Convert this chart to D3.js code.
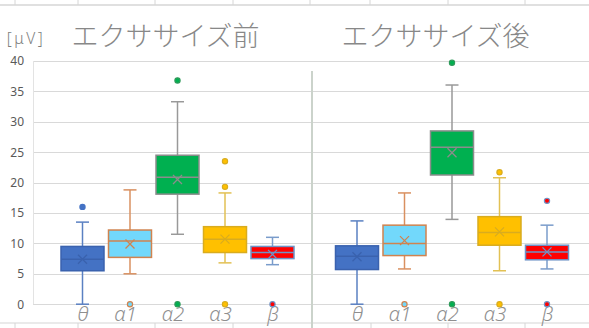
<!DOCTYPE html>
<html>
<head>
<meta charset="utf-8">
<script src="https://cdn.jsdelivr.net/npm/d3@7"></script>
<style>
  html, body { margin: 0; padding: 0; background: #ffffff; }
  svg { display: block; }
</style>
</head>
<body>
<svg id="chart" width="589" height="328"></svg>
<script>
// ---------------- data ----------------
const categories = ["θ", "α1", "α2", "α3", "β"];
const panelTitles = ["エクササイズ前", "エクササイズ後"];
const unitLabel = "[μV]";
const yTicks = [0, 5, 10, 15, 20, 25, 30, 35, 40];

// before exercise
const beforeLow    = [0,    5.0, 11.5, 6.8,  6.5];
const beforeQ1     = [5.5,  7.7, 18.1, 8.5,  7.5];
const beforeMedian = [7.4, 10.4, 20.9, 10.7, 8.5];
const beforeQ3     = [9.5, 12.2, 24.5, 12.75, 9.5];
const beforeHigh   = [13.5, 18.8, 33.3, 18.3, 11.0];
const beforeMean   = [7.4,  9.9, 20.5, 10.7, 8.2];
const beforeOutliers = [[16.0], [0], [36.8, 0], [23.5, 19.3, 0], [0]];

// after exercise
const afterLow    = [0,    5.8, 13.95, 5.5, 5.8];
const afterQ1     = [5.7,  8.0, 21.25, 9.7, 7.3];
const afterMedian = [7.9, 10.0, 25.8, 11.8, 8.6];
const afterQ3     = [9.6, 13.0, 28.5, 14.4, 9.7];
const afterHigh   = [13.7, 18.3, 36.05, 20.8, 13.0];
const afterMean   = [7.8, 10.45, 24.9, 11.9, 8.6];
const afterOutliers = [[], [0], [39.7, 0], [21.7, 0], [17.0, 0]];

// styles per category
const fills   = ["#4472C4", "#72D8FB", "#00B050", "#FFC000", "#FF0000"];
const strokes = ["#3A62AE", "#D0834F", "#8C8C8C", "#D9AC1E", "#6E93C6"];
const whiskerStrokes = ["#5A80C2", "#D99060", "#999999", "#E2C154", "#7A9CCB"];
const outlierFills = ["#4472C4", "#72D8FB", "#00B050", "#FFC000", "#FF0000"];
const outlierStrokes = ["#4472C4", "#D0834F", "#2E9A5A", "#D9AC1E", "#6E93C6"];

// ---------------- layout ----------------
const svg = d3.select("#chart");
const W = 589, H = 328;

const y = d3.scaleLinear().domain([0, 40]).range([304.2, 61]);

const panels = [
  { title: panelTitles[0], titleX: 165.5, range: [82.5, 272.5],
    low: beforeLow, q1: beforeQ1, med: beforeMedian, q3: beforeQ3, high: beforeHigh, mean: beforeMean, out: beforeOutliers },
  { title: panelTitles[1], titleX: 435.5, range: [357, 547],
    low: afterLow, q1: afterQ1, med: afterMedian, q3: afterQ3, high: afterHigh, mean: afterMean, out: afterOutliers }
];

// spreadsheet cell lines (background)
const cellLine = "#d6d6d6";
svg.append("line").attr("x1", 0).attr("x2", W).attr("y1", 5).attr("y2", 5)
  .attr("stroke", cellLine).attr("stroke-width", 1.5);
[15, 78, 155, 233, 310, 370, 448, 525].forEach(x => {
  svg.append("line").attr("x1", x).attr("x2", x).attr("y1", 0).attr("y2", 5)
    .attr("stroke", cellLine).attr("stroke-width", 1);
});
svg.append("line").attr("x1", 0).attr("x2", W).attr("y1", 323).attr("y2", 323)
  .attr("stroke", cellLine).attr("stroke-width", 1.2);
[15, 78, 155, 233, 371, 448, 525].forEach(x => {
  svg.append("line").attr("x1", x).attr("x2", x).attr("y1", 323).attr("y2", H)
    .attr("stroke", cellLine).attr("stroke-width", 1);
});

// gridlines
svg.append("g").selectAll("line").data(yTicks).join("line")
  .attr("x1", 33).attr("x2", W)
  .attr("y1", d => Math.round(y(d)) + 0.5).attr("y2", d => Math.round(y(d)) + 0.5)
  .attr("stroke", "#d9d9d9").attr("stroke-width", 1.2);

// left plot edge
svg.append("line").attr("x1", 33.5).attr("x2", 33.5).attr("y1", y(40)).attr("y2", y(0))
  .attr("stroke", "#e3e3e3").attr("stroke-width", 1);

// right chart border line
svg.append("line").attr("x1", 312).attr("x2", 312).attr("y1", 71).attr("y2", H)
  .attr("stroke", "#cbd3cb").attr("stroke-width", 2);

// y axis
const yAxis = d3.axisLeft(y).tickValues(yTicks).tickSize(0).tickPadding(9);
const yg = svg.append("g").attr("transform", "translate(33,0)").call(yAxis);
yg.select(".domain").remove();
yg.selectAll("text")
  .attr("fill", "#595959")
  .style("font-family", "'Noto Sans', 'Liberation Sans', sans-serif")
  .style("font-size", "12px");

// unit label
svg.append("text").attr("x", 26).attr("y", 44).attr("text-anchor", "middle")
  .attr("fill", "#7f7f7f")
  .style("font-family", "'Noto Sans', 'DejaVu Sans', sans-serif")
  .style("font-size", "15.5px").style("font-weight", 300)
  .style("letter-spacing", "2.5px")
  .text(unitLabel);

const capHalf = 6.5, boxW = 43, xHalf = 4.5;

panels.forEach(p => {
  const x = d3.scalePoint().domain(categories).range(p.range);

  // title
  svg.append("text").attr("x", p.titleX).attr("y", 45.5).attr("text-anchor", "middle")
    .attr("fill", "#888888")
    .style("font-family", "'Noto Sans CJK JP', 'Noto Sans CJK SC', sans-serif")
    .style("font-size", "27px").style("font-weight", 300)
    .text(p.title);

  // x axis labels
  const xAxis = d3.axisBottom(x).tickSize(0).tickPadding(0);
  const xg = svg.append("g").attr("transform", "translate(0,305)").call(xAxis);
  xg.select(".domain").remove();
  xg.selectAll("text")
    .attr("fill", "#8f8f8f")
    .attr("dy", "0.8em")
    .attr("dx", d => d.length > 1 ? -5 : 0)
    .style("font-family", "'Noto Sans', 'DejaVu Sans', sans-serif")
    .style("font-size", "20px").style("font-weight", 300)
    .style("font-style", "italic");

  const g = svg.append("g");
  categories.forEach((c, i) => {
    const cx = x(c);
    const ws = whiskerStrokes[i];
    // whiskers
    g.append("line").attr("x1", cx).attr("x2", cx).attr("y1", y(p.high[i])).attr("y2", y(p.q3[i]))
      .attr("stroke", ws).attr("stroke-width", 1.5);
    g.append("line").attr("x1", cx).attr("x2", cx).attr("y1", y(p.q1[i])).attr("y2", y(p.low[i]))
      .attr("stroke", ws).attr("stroke-width", 1.5);
    g.append("line").attr("x1", cx - capHalf).attr("x2", cx + capHalf).attr("y1", y(p.high[i])).attr("y2", y(p.high[i]))
      .attr("stroke", ws).attr("stroke-width", 1.5);
    g.append("line").attr("x1", cx - capHalf).attr("x2", cx + capHalf).attr("y1", y(p.low[i])).attr("y2", y(p.low[i]))
      .attr("stroke", ws).attr("stroke-width", 1.5);
    // box
    g.append("rect").attr("x", cx - boxW / 2).attr("y", y(p.q3[i]))
      .attr("width", boxW).attr("height", y(p.q1[i]) - y(p.q3[i]))
      .attr("fill", fills[i]).attr("stroke", strokes[i]).attr("stroke-width", 1.5);
    // median
    g.append("line").attr("x1", cx - boxW / 2).attr("x2", cx + boxW / 2)
      .attr("y1", y(p.med[i])).attr("y2", y(p.med[i]))
      .attr("stroke", strokes[i]).attr("stroke-width", 1.5);
    // mean x
    const my = y(p.mean[i]);
    g.append("path")
      .attr("d", `M${cx - xHalf},${my - xHalf}L${cx + xHalf},${my + xHalf}M${cx - xHalf},${my + xHalf}L${cx + xHalf},${my - xHalf}`)
      .attr("stroke", strokes[i]).attr("stroke-width", 1.3).attr("fill", "none");
    // outliers
    p.out[i].forEach(v => {
      g.append("circle").attr("cx", cx).attr("cy", y(v)).attr("r", 2.6)
        .attr("fill", outlierFills[i]).attr("stroke", outlierStrokes[i]).attr("stroke-width", 1.2);
    });
  });
});
</script>
</body>
</html>
